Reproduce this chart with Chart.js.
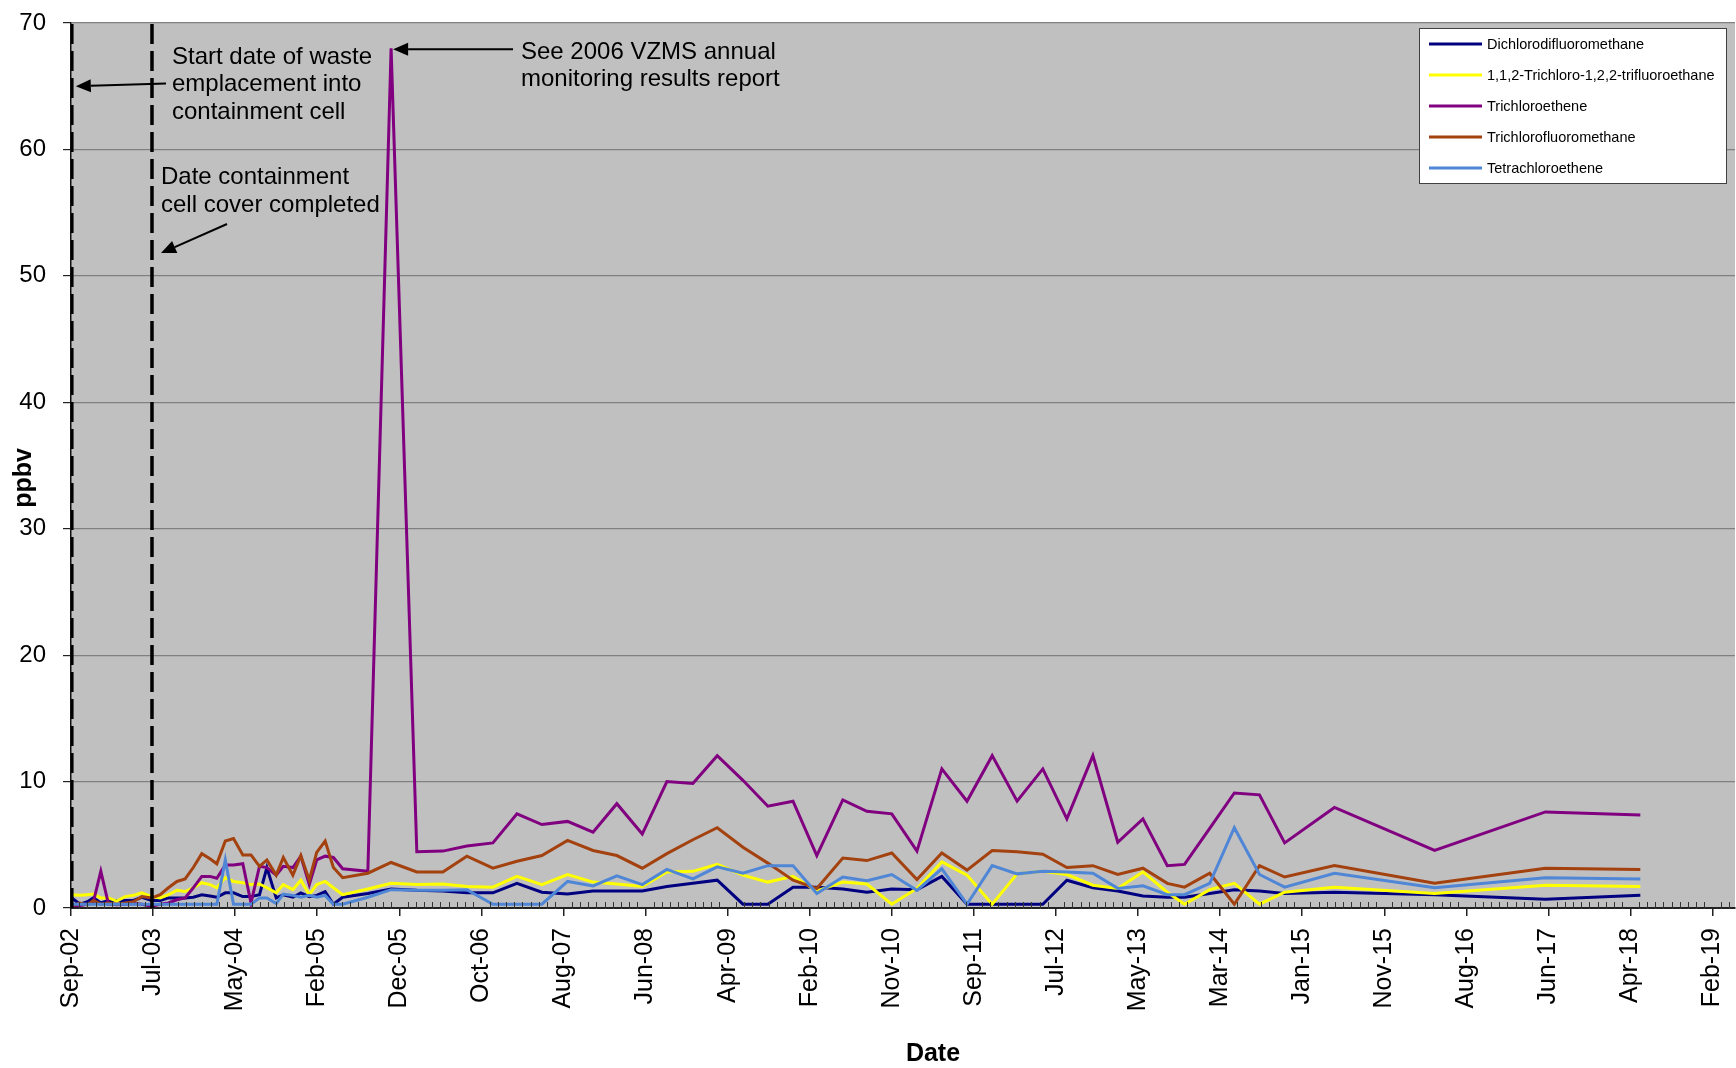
<!DOCTYPE html>
<html>
<head>
<meta charset="utf-8">
<title>VZMS soil gas – ppbv by date</title>
<script src="https://cdn.jsdelivr.net/npm/chart.js@4.4.1/dist/chart.umd.min.js"></script>
<style>
  html, body { margin: 0; padding: 0; background: #ffffff; }
  canvas { display: block; }
</style>
</head>
<body>
<canvas id="chart" width="1736" height="1068"></canvas>
<script>
// ---- data -------------------------------------------------------------
const sampleDates = [
  '2002-09-15','2002-10-15','2002-11-11','2002-12-03','2002-12-30','2003-01-27','2003-02-26','2003-03-29',
  '2003-04-28','2003-05-29','2003-07-04','2003-08-04','2003-09-03','2003-10-04','2003-11-03','2003-12-03',
  '2004-01-03','2004-02-02','2004-02-27','2004-03-29','2004-04-28','2004-06-01','2004-07-01','2004-08-01',
  '2004-08-28','2004-10-01','2004-10-27','2004-12-01','2004-12-30','2005-01-30','2005-02-26','2005-03-29',
  '2005-04-28','2005-06-01','2005-09-01','2005-11-25','2006-02-27','2006-06-02','2006-08-29','2006-12-02',
  '2007-02-28','2007-05-30','2007-09-01','2007-12-03','2008-02-28','2008-05-31','2008-08-29','2008-12-02',
  '2009-03-01','2009-06-03','2009-09-02','2009-12-03','2010-02-28','2010-06-03','2010-08-30','2010-11-29',
  '2011-03-01','2011-05-31','2011-08-31','2011-12-01','2012-03-01','2012-06-03','2012-08-30','2012-12-03',
  '2013-03-04','2013-06-04','2013-09-01','2013-11-03','2014-02-03','2014-05-04','2014-08-04','2014-11-04',
  '2015-05-05','2016-05-05','2017-06-14','2018-05-27'
];

const dichlorodifluoromethane = [
  0.8,0.3,0.5,0.8,0.4,0.6,0.6,0.6, 0.6,0.85,0.6,0.6,0.8,0.8,0.8,0.85,
  1.05,0.95,0.85,1.2,1.2,0.9,0.9,1.05, 3.2,0.8,1.05,0.85,1.2,0.9,1.0,1.3,
  0.3,0.85,1.15,1.5,1.4,1.35,1.2,1.2, 1.95,1.25,1.1,1.35,1.35,1.35,1.7,1.95,
  2.2,0.3,0.3,1.65,1.65,1.5,1.25,1.5, 1.45,2.5,0.3,0.3,0.3,0.3,2.2,1.6,
  1.35,0.95,0.85,0.85,1.15,1.45,1.35,1.15, 1.25,1.05,0.7,1.0
];

const trichlorotrifluoroethane = [
  1.05,1.0,1.05,1.1,0.8,0.8,0.55,0.9, 1.0,1.2,0.9,0.8,1.05,1.4,1.3,1.6,
  2.0,1.85,1.6,2.4,2.1,2.0,1.85,1.9, 1.6,1.2,1.85,1.45,2.2,1.05,1.85,2.1,
  1.6,1.05,1.5,1.95,1.85,1.9,1.7,1.65, 2.5,1.85,2.65,2.05,1.9,1.7,2.85,2.9,
  3.45,2.6,2.05,2.5,1.35,2.05,1.9,0.3, 1.55,3.65,2.6,0.3,2.7,2.9,2.65,1.8,
  1.55,2.85,1.25,0.3,1.45,1.95,0.3,1.25, 1.65,1.15,1.8,1.7
];

const trichloroethene = [
  0.2,0.2,0.3,0.5,2.9,0.3,0.25,0.3, 0.35,0.3,0.15,0.3,0.4,0.65,0.8,1.6,
  2.5,2.5,2.35,3.4,3.4,3.5,0.4,3.3, 3.2,2.6,3.3,3.2,4.1,1.85,3.8,4.1,
  4.0,3.1,2.9,68,4.45,4.5,4.9,5.15, 7.45,6.6,6.85,6.0,8.25,5.85,10.0,9.85,
  12.05,10.1,8.05,8.45,4.15,8.55,7.65,7.45, 4.5,11.0,8.45,12.05,8.45,11.0,7.05,12.05,
  5.2,7.05,3.35,3.45,6.3,9.1,8.95,5.15, 7.95,4.55,7.6,7.35
];

const trichlorofluoromethane = [
  0.2,0.4,0.25,0.6,0.3,0.4,0.3,0.4, 0.5,0.9,0.8,1.05,1.6,2.1,2.3,3.2,
  4.3,3.9,3.5,5.3,5.5,4.2,4.2,3.3, 3.8,2.6,4.0,2.6,4.15,2.2,4.4,5.3,
  3.2,2.4,2.75,3.6,2.85,2.85,4.1,3.15, 3.7,4.15,5.35,4.55,4.15,3.15,4.3,5.4,
  6.35,4.8,3.55,2.2,1.55,3.95,3.75,4.35, 2.25,4.35,3.0,4.55,4.45,4.25,3.2,3.35,
  2.65,3.15,1.95,1.65,2.75,0.3,3.35,2.45, 3.35,1.95,3.15,3.05
];

const tetrachloroethene = [
  0.3,0.3,0.3,0.3,0.3,0.3,0.3,0.3, 0.3,0.3,0.3,0.3,0.3,0.3,0.3,0.3,
  0.3,0.3,0.3,3.8,0.3,0.3,0.3,0.8, 0.8,0.35,1.1,1.0,0.85,1.0,0.85,1.0,
  0.3,0.3,0.85,1.45,1.4,1.4,1.45,0.3, 0.3,0.3,2.1,1.75,2.55,1.85,3.05,2.3,
  3.25,2.75,3.35,3.35,1.15,2.45,2.15,2.65, 1.4,3.1,0.3,3.35,2.7,2.9,2.85,2.75,
  1.55,1.75,1.05,1.05,1.95,6.35,2.65,1.65, 2.75,1.6,2.4,2.3
];

const seriesNames = [
  'Dichlorodifluoromethane',
  '1,1,2-Trichloro-1,2,2-trifluoroethane',
  'Trichloroethene',
  'Trichlorofluoromethane',
  'Tetrachloroethene'
];
const seriesValues = [
  dichlorodifluoromethane, trichlorotrifluoroethane, trichloroethene,
  trichlorofluoromethane, tetrachloroethene
];
const seriesColors = ['#000080', '#FFFF00', '#800080', '#A3410F', '#4F86D6'];

// waste emplacement start, containment cell cover completed
const milestoneDates = ['2002-09-15', '2003-07-05'];
// sample with the very high trichloroethene reading
const spikeDate = '2005-11-25';
const spikeValue = 68;

const yTicks = [0, 10, 20, 30, 40, 50, 60, 70];
const axisStartDate = '2002-09-12';
const majorStepDays = 300;
const minorStepDays = 30;
const majorTickCount = 21;
const axisEndDays = 6082;

// ---- helpers ------------------------------------------------------------
const DAY_MS = 86400000;
const baseMs = Date.parse(axisStartDate + 'T00:00:00Z');
const toDays = s => Math.round((Date.parse(s + 'T00:00:00Z') - baseMs) / DAY_MS);
const MONTHS = ['Jan','Feb','Mar','Apr','May','Jun','Jul','Aug','Sep','Oct','Nov','Dec'];
const fmtTick = d => {
  const t = new Date(baseMs + d * DAY_MS);
  return MONTHS[t.getUTCMonth()] + '-' + String(t.getUTCFullYear() % 100).padStart(2, '0');
};
const majorTicks = Array.from({ length: majorTickCount }, (_, k) => k * majorStepDays);

const FONT = '"Liberation Sans", Arial, Helvetica, sans-serif';
Chart.defaults.font.family = FONT;
Chart.defaults.color = '#000';

// ---- datasets -----------------------------------------------------------
const datasets = seriesNames.map((name, i) => ({
  label: name,
  data: sampleDates.map((s, j) => ({ x: toDays(s), y: seriesValues[i][j] })),
  borderColor: seriesColors[i],
  backgroundColor: seriesColors[i],
  borderWidth: 3,
  pointRadius: 0,
  tension: 0,
  fill: false,
  order: seriesNames.length - 1 - i   // later series drawn on top
}));

milestoneDates.forEach(s => {
  datasets.push({
    label: '',
    isMilestone: true,
    data: [{ x: toDays(s), y: yTicks[0] }, { x: toDays(s), y: yTicks[yTicks.length - 1] }],
    borderColor: '#000',
    borderWidth: 3.5,
    borderDash: [20, 7],
    pointRadius: 0,
    fill: false,
    order: -1
  });
});

// ---- drawing plugins ----------------------------------------------------
const plotBackground = {
  id: 'plotBackground',
  beforeDraw(chart) {
    const { ctx, chartArea: a } = chart;
    ctx.save();
    ctx.fillStyle = '#ffffff';
    ctx.fillRect(0, 0, chart.width, chart.height);
    ctx.fillStyle = '#C0C0C0';
    ctx.fillRect(a.left, a.top, a.right - a.left, a.bottom - a.top);
    ctx.restore();
  }
};

const minorTicks = {
  id: 'minorTicks',
  afterDraw(chart) {
    const { ctx } = chart;
    const x = chart.scales.x;
    const y0 = chart.scales.y.getPixelForValue(0);
    ctx.save();
    ctx.strokeStyle = '#333';
    ctx.lineWidth = 1;
    ctx.beginPath();
    for (let d = minorStepDays; d <= axisEndDays; d += minorStepDays) {
      if (d % majorStepDays === 0) continue;
      const px = Math.round(x.getPixelForValue(d)) + 0.5;
      ctx.moveTo(px, y0 - 6);
      ctx.lineTo(px, y0 + 1);
    }
    ctx.stroke();
    ctx.restore();
  }
};

function drawArrow(ctx, x1, y1, x2, y2) {
  const a = Math.atan2(y2 - y1, x2 - x1), L = 15, W = 6.5;
  const bx = x2 - L * Math.cos(a), by = y2 - L * Math.sin(a);
  ctx.beginPath();
  ctx.moveTo(x1, y1);
  ctx.lineTo(bx, by);
  ctx.lineWidth = 2;
  ctx.strokeStyle = '#000';
  ctx.stroke();
  ctx.beginPath();
  ctx.moveTo(x2, y2);
  ctx.lineTo(bx + W * Math.sin(a), by - W * Math.cos(a));
  ctx.lineTo(bx - W * Math.sin(a), by + W * Math.cos(a));
  ctx.closePath();
  ctx.fillStyle = '#000';
  ctx.fill();
}

const notes = {
  id: 'notes',
  afterDraw(chart) {
    const { ctx } = chart;
    const sx = chart.scales.x, sy = chart.scales.y;
    ctx.save();
    ctx.fillStyle = '#000';
    ctx.font = '24px ' + FONT;
    ctx.textAlign = 'left';
    ctx.textBaseline = 'alphabetic';
    const block = (lines, x, y) => lines.forEach((t, i) => ctx.fillText(t, x, y + i * 27.5));

    block(['Start date of waste', 'emplacement into', 'containment cell'], 172, 63.5);
    drawArrow(ctx, 166, 83.5, sx.getPixelForValue(toDays(milestoneDates[0])) + 4, sy.getPixelForValue(65));

    block(['Date containment', 'cell cover completed'], 161, 184);
    drawArrow(ctx, 227, 224, sx.getPixelForValue(toDays(milestoneDates[1])) + 9, sy.getPixelForValue(51.8));

    block(['See 2006 VZMS annual', 'monitoring results report'], 521, 58.5);
    drawArrow(ctx, 513, sy.getPixelForValue(spikeValue) + 1,
      sx.getPixelForValue(toDays(spikeDate)) + 2, sy.getPixelForValue(spikeValue) + 1);

    // axis titles
    ctx.font = 'bold 25px ' + FONT;
    ctx.textAlign = 'center';
    ctx.fillText('Date', 933, 1061);
    ctx.translate(24, 478);
    ctx.rotate(-Math.PI / 2);
    ctx.textBaseline = 'middle';
    ctx.fillText('ppbv', 0, 0);
    ctx.restore();
  }
};

const boxLegend = {
  id: 'boxLegend',
  afterDraw(chart) {
    const { ctx } = chart;
    ctx.save();
    ctx.fillStyle = '#ffffff';
    ctx.fillRect(1419.5, 28.5, 307, 155);
    ctx.strokeStyle = '#404040';
    ctx.lineWidth = 1;
    ctx.strokeRect(1419.5, 28.5, 307, 155);
    ctx.font = '14.5px ' + FONT;
    ctx.textAlign = 'left';
    ctx.textBaseline = 'middle';
    chart.data.datasets.filter(d => !d.isMilestone).forEach((d, i) => {
      const y = 44 + i * 31;
      ctx.strokeStyle = d.borderColor;
      ctx.lineWidth = 3;
      ctx.beginPath();
      ctx.moveTo(1429, y);
      ctx.lineTo(1482, y);
      ctx.stroke();
      ctx.fillStyle = '#000';
      ctx.fillText(d.label, 1487, y + 1);
    });
    ctx.restore();
  }
};

// ---- chart --------------------------------------------------------------
new Chart(document.getElementById('chart'), {
  type: 'line',
  data: { datasets },
  plugins: [plotBackground, minorTicks, notes, boxLegend],
  options: {
    responsive: false,
    animation: false,
    devicePixelRatio: 1,
    events: [],
    layout: { padding: { top: 23, right: 1, left: 0, bottom: 0 } },
    plugins: { legend: { display: false }, tooltip: { enabled: false } },
    scales: {
      x: {
        type: 'linear',
        min: 0,
        max: axisEndDays,
        afterBuildTicks: s => { s.ticks = majorTicks.map(v => ({ value: v })); },
        afterFit: s => { s.height = 160; s.paddingLeft = 0; s.paddingRight = 0; },
        ticks: {
          autoSkip: false,
          minRotation: 90,
          maxRotation: 90,
          padding: 12,
          color: '#000',
          font: { size: 25 },
          callback: v => fmtTick(v)
        },
        grid: { drawOnChartArea: false, drawTicks: true, tickLength: 8, color: '#222', lineWidth: 1.5 },
        border: { display: true, color: '#222', width: 2 }
      },
      y: {
        min: yTicks[0],
        max: yTicks[yTicks.length - 1],
        afterBuildTicks: s => { s.ticks = yTicks.map(v => ({ value: v })); },
        afterFit: s => { s.width = 71; s.paddingTop = 0; s.paddingBottom = 0; },
        ticks: { padding: 17, color: '#000', font: { size: 24 } },
        grid: { color: '#808080', lineWidth: 1.2, tickLength: 8, tickColor: '#222' },
        border: { display: true, color: '#111', width: 1.5 }
      }
    }
  }
});
</script>
</body>
</html>
